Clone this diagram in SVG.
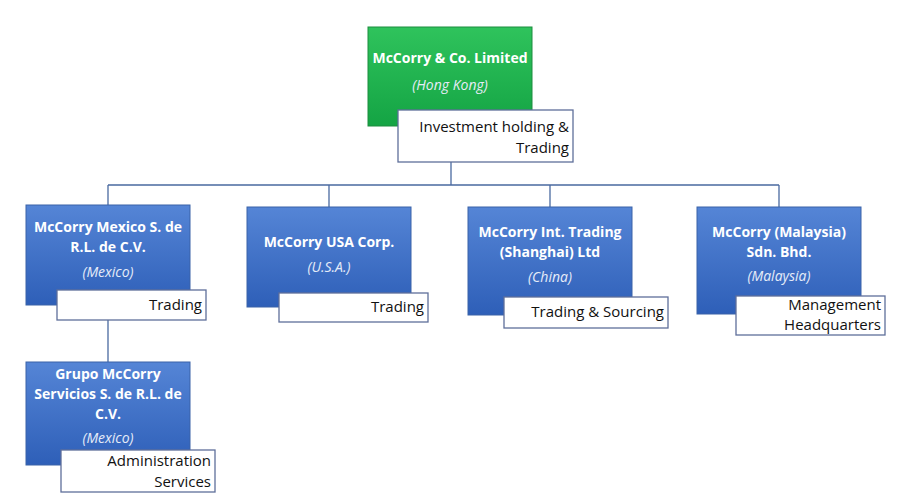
<svg xmlns="http://www.w3.org/2000/svg" width="900" height="503" viewBox="0 0 900 503">
<defs>
<linearGradient id="gb" x1="0" y1="0" x2="0" y2="1"><stop offset="0" stop-color="#5585d6"/><stop offset="1" stop-color="#2e5fb8"/></linearGradient>
<linearGradient id="gg" x1="0" y1="0" x2="0" y2="1"><stop offset="0" stop-color="#2fc35c"/><stop offset="1" stop-color="#14a444"/></linearGradient>
</defs>
<style>
.b{fill:url(#gb);stroke:#3a63a8;stroke-width:1}
.g{fill:url(#gg);stroke:#1c8d3e;stroke-width:1}
.l{fill:#fff;stroke:#5f6f9a;stroke-width:1.3}
.t{font-family:"Open Sans","Liberation Sans",sans-serif;font-size:14px;font-weight:bold;fill:#fff;text-anchor:middle}
.i{font-family:"Open Sans","Liberation Sans",sans-serif;font-size:14px;font-style:italic;fill:#e6ecf8;text-anchor:middle}
.s{font-family:"Open Sans","Liberation Sans",sans-serif;font-size:15px;fill:#111;text-anchor:end}
.c{stroke:#4a6aa0;stroke-width:1.3;fill:none}
</style>
<rect width="900" height="503" fill="#fff"/>
<g id="connectors">
<path class="c" d="M451 162V185M108 185H779M108 185V205M329 185V207M550 185V207M779 185V207M108 320V362"/>
</g>
<g id="n0"><rect class="g" x="368" y="27" width="164" height="99"/>
<text class="t" x="450" y="63">McCorry &amp; Co. Limited</text><text class="i" x="450" y="90">(Hong Kong)</text>
<rect class="l" x="398" y="110" width="175" height="52"/><text class="s" x="569" y="132">Investment holding &amp;</text><text class="s" x="569" y="153">Trading</text></g>
<g id="n1"><rect class="b" x="26" y="205" width="164" height="100"/>
<text class="t" x="108" y="232">McCorry Mexico S. de</text><text class="t" x="108" y="252">R.L. de C.V.</text><text class="i" x="108" y="277">(Mexico)</text>
<rect class="l" x="57" y="290" width="149" height="30"/><text class="s" x="202" y="310">Trading</text></g>
<g id="n2"><rect class="b" x="247" y="207" width="164" height="100"/>
<text class="t" x="329" y="247">McCorry USA Corp.</text><text class="i" x="329" y="272">(U.S.A.)</text>
<rect class="l" x="279" y="293" width="149" height="29"/><text class="s" x="424" y="312">Trading</text></g>
<g id="n3"><rect class="b" x="468" y="207" width="164" height="108"/>
<text class="t" x="550" y="237">McCorry Int. Trading</text><text class="t" x="550" y="257">(Shanghai) Ltd</text><text class="i" x="550" y="282">(China)</text>
<rect class="l" x="504" y="297" width="164" height="31"/><text class="s" x="664" y="317">Trading &amp; Sourcing</text></g>
<g id="n4"><rect class="b" x="697" y="207" width="164" height="107"/>
<text class="t" x="779" y="237">McCorry (Malaysia)</text><text class="t" x="779" y="257">Sdn. Bhd.</text><text class="i" x="779" y="281">(Malaysia)</text>
<rect class="l" x="736" y="296" width="149" height="39"/><text class="s" x="881" y="310">Management</text><text class="s" x="881" y="330">Headquarters</text></g>
<g id="n5"><rect class="b" x="26" y="362" width="164" height="103"/>
<text class="t" x="108" y="379">Grupo McCorry</text><text class="t" x="108" y="399">Servicios S. de R.L. de</text><text class="t" x="108" y="419">C.V.</text><text class="i" x="108" y="443">(Mexico)</text>
<rect class="l" x="61" y="450" width="154" height="42"/><text class="s" x="211" y="466">Administration</text><text class="s" x="211" y="487">Services</text></g>
</svg>
